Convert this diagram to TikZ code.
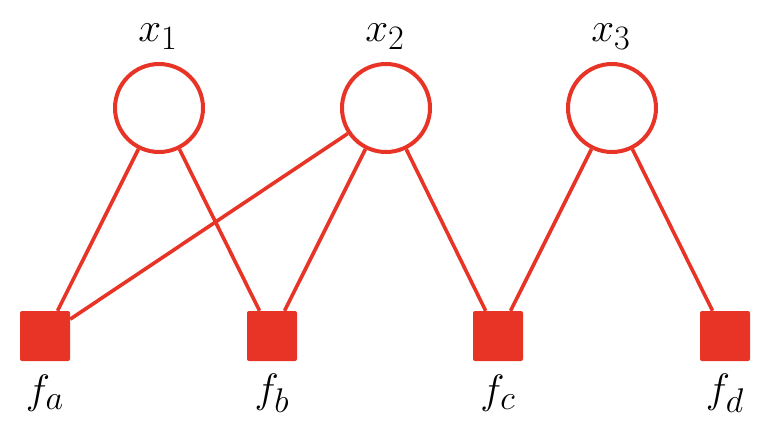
\documentclass[tikz,border=0pt]{standalone}
\usepackage{graphicx}
\newcommand{\biglabel}[1]{\scalebox{1.65}{\Huge$#1$}}
\begin{document}
\begin{tikzpicture}[x=1pt,y=-1pt,
  varnode/.style={circle,draw=factorred,line width=4pt,minimum size=88pt,inner sep=0pt,fill=white},
  factornode/.style={rectangle,fill=factorred,minimum size=50pt,inner sep=0pt,rounded corners=2pt},
  edge/.style={draw=factorred,line width=3.6pt}]
\definecolor{factorred}{RGB}{232,52,38}
\useasboundingbox (0,0) rectangle (772,442);
% variable nodes
\node[varnode] (x1) at (159,108) {};
\node[varnode] (x2) at (386,108) {};
\node[varnode] (x3) at (612,108) {};
% factor nodes
\node[factornode] (fa) at (45,336) {};
\node[factornode] (fb) at (272,336) {};
\node[factornode] (fc) at (498,336) {};
\node[factornode] (fd) at (725,336) {};
% labels
\node (lx1) at (158,37) {\biglabel{x_1}};
\node (lx2) at (385,37) {\biglabel{x_2}};
\node (lx3) at (611,37) {\biglabel{x_3}};
\node (lfa) at (45,393) {\biglabel{f_a}};
\node (lfb) at (272,393) {\biglabel{f_b}};
\node (lfc) at (498,393) {\biglabel{f_c}};
\node (lfd) at (725,393) {\biglabel{f_d}};
% edges
\path[edge] (x1) -- (fa);
\path[edge] (x1) -- (fb);
\path[edge] (x2) -- (fa);
\path[edge] (x2) -- (fb);
\path[edge] (x2) -- (fc);
\path[edge] (x3) -- (fc);
\path[edge] (x3) -- (fd);
\end{tikzpicture}
\end{document}
